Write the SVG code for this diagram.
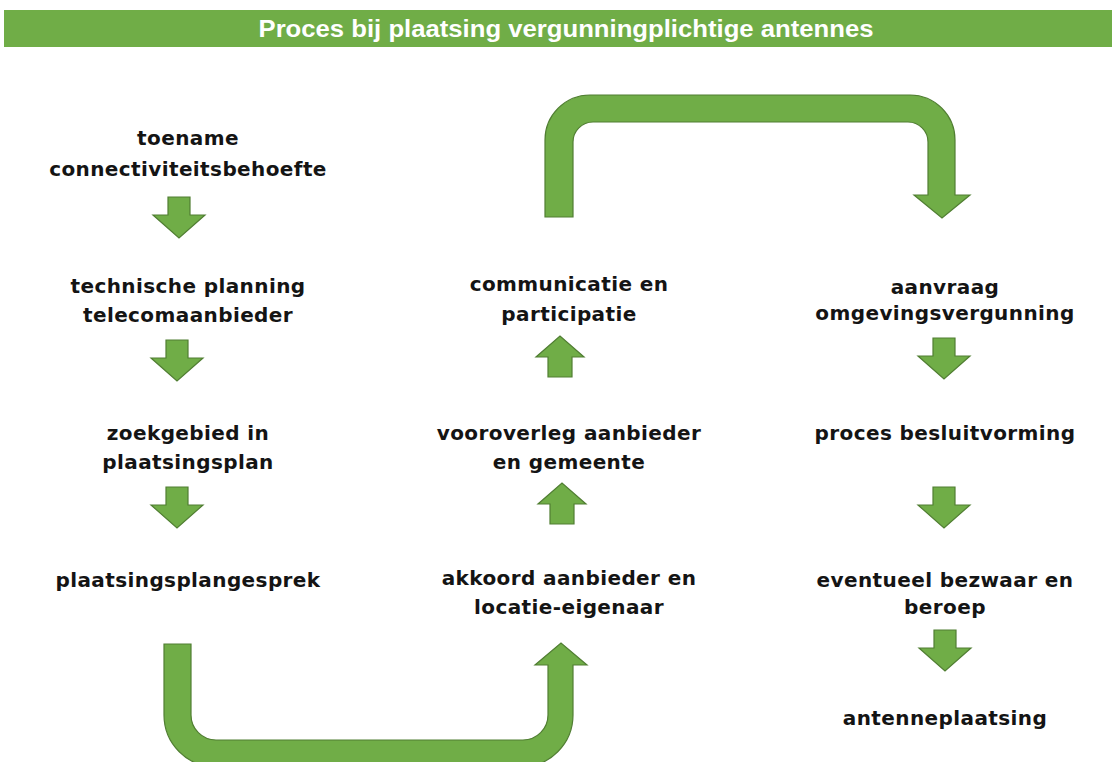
<svg xmlns="http://www.w3.org/2000/svg" xmlns:xlink="http://www.w3.org/1999/xlink" width="1112" height="762" viewBox="0 0 1112 762">
  <style>
    .lbl { font-family: "DejaVu Sans", Verdana, sans-serif; font-weight: bold; font-size: 20px; letter-spacing: 0.4px; fill: #141414; text-anchor: middle; }
    .title { font-family: "Liberation Sans", Arial, sans-serif; font-weight: bold; font-size: 24px; fill: #ffffff; text-anchor: middle; }
    .arr { fill: #70AD47; stroke: #507E32; stroke-width: 1.2; stroke-linejoin: miter; }
  </style>
  <defs>
    <path id="down" class="arr" d="M-11,0 L11,0 L11,18 L26,18 L0,41 L-26,18 L-11,18 Z"/>
    <path id="up" class="arr" d="M-12,41 L12,41 L12,21 L24,21 L0,0 L-24,21 L-12,21 Z"/>
  </defs>
  <rect x="0" y="0" width="1112" height="762" fill="#ffffff"/>

  <g id="title">
    <rect x="4" y="10" width="1108" height="37" fill="#70AD47"/>
    <text class="title" x="566" y="37" textLength="615" lengthAdjust="spacingAndGlyphs">Proces bij plaatsing vergunningplichtige antennes</text>
  </g>

  <g id="node-toename">
    <text class="lbl" x="188" y="145">toename</text>
    <text class="lbl" x="188" y="176">connectiviteitsbehoefte</text>
  </g>
  <g id="node-technische-planning">
    <text class="lbl" x="188" y="293">technische planning</text>
    <text class="lbl" x="188" y="322">telecomaanbieder</text>
  </g>
  <g id="node-zoekgebied">
    <text class="lbl" x="188" y="440">zoekgebied in</text>
    <text class="lbl" x="188" y="469">plaatsingsplan</text>
  </g>
  <g id="node-plaatsingsplangesprek">
    <text class="lbl" x="188" y="587">plaatsingsplangesprek</text>
  </g>

  <g id="node-communicatie">
    <text class="lbl" x="569" y="291">communicatie en</text>
    <text class="lbl" x="569" y="321">participatie</text>
  </g>
  <g id="node-vooroverleg">
    <text class="lbl" x="569" y="440">vooroverleg aanbieder</text>
    <text class="lbl" x="569" y="469">en gemeente</text>
  </g>
  <g id="node-akkoord">
    <text class="lbl" x="569" y="585">akkoord aanbieder en</text>
    <text class="lbl" x="569" y="614">locatie-eigenaar</text>
  </g>

  <g id="node-aanvraag">
    <text class="lbl" x="945" y="294">aanvraag</text>
    <text class="lbl" x="945" y="320">omgevingsvergunning</text>
  </g>
  <g id="node-besluitvorming">
    <text class="lbl" x="945" y="440">proces besluitvorming</text>
  </g>
  <g id="node-bezwaar">
    <text class="lbl" x="945" y="587">eventueel bezwaar en</text>
    <text class="lbl" x="945" y="614">beroep</text>
  </g>
  <g id="node-antenneplaatsing">
    <text class="lbl" x="945" y="725">antenneplaatsing</text>
  </g>

  <g id="connectors">
    <use xlink:href="#down" x="179" y="197"/>
    <use xlink:href="#down" x="177" y="340"/>
    <use xlink:href="#down" x="177" y="487"/>
    <use xlink:href="#up" x="562" y="483"/>
    <use xlink:href="#up" x="560" y="336"/>
    <use xlink:href="#down" x="944" y="338"/>
    <use xlink:href="#down" x="944" y="487"/>
    <use xlink:href="#down" x="945" y="630"/>
    <path class="arr" d="M164,644 L191,644 L191,715 A25,25 0 0 0 216,740 L523,740 A25,25 0 0 0 548,715 L548,665 L535,665 L561,643 L587,665 L573,665 L573,715 A52,52 0 0 1 521,767 L216,767 A52,52 0 0 1 164,715 Z"/>
    <path class="arr" d="M545,217 L545,140 A45,45 0 0 1 590,95 L910,95 A45,45 0 0 1 955,140 L955,195 L970,195 L942,218 L914,195 L928,195 L928,142 A20,20 0 0 0 908,122 L593,122 A20,20 0 0 0 573,142 L573,217 Z"/>
  </g>
</svg>
